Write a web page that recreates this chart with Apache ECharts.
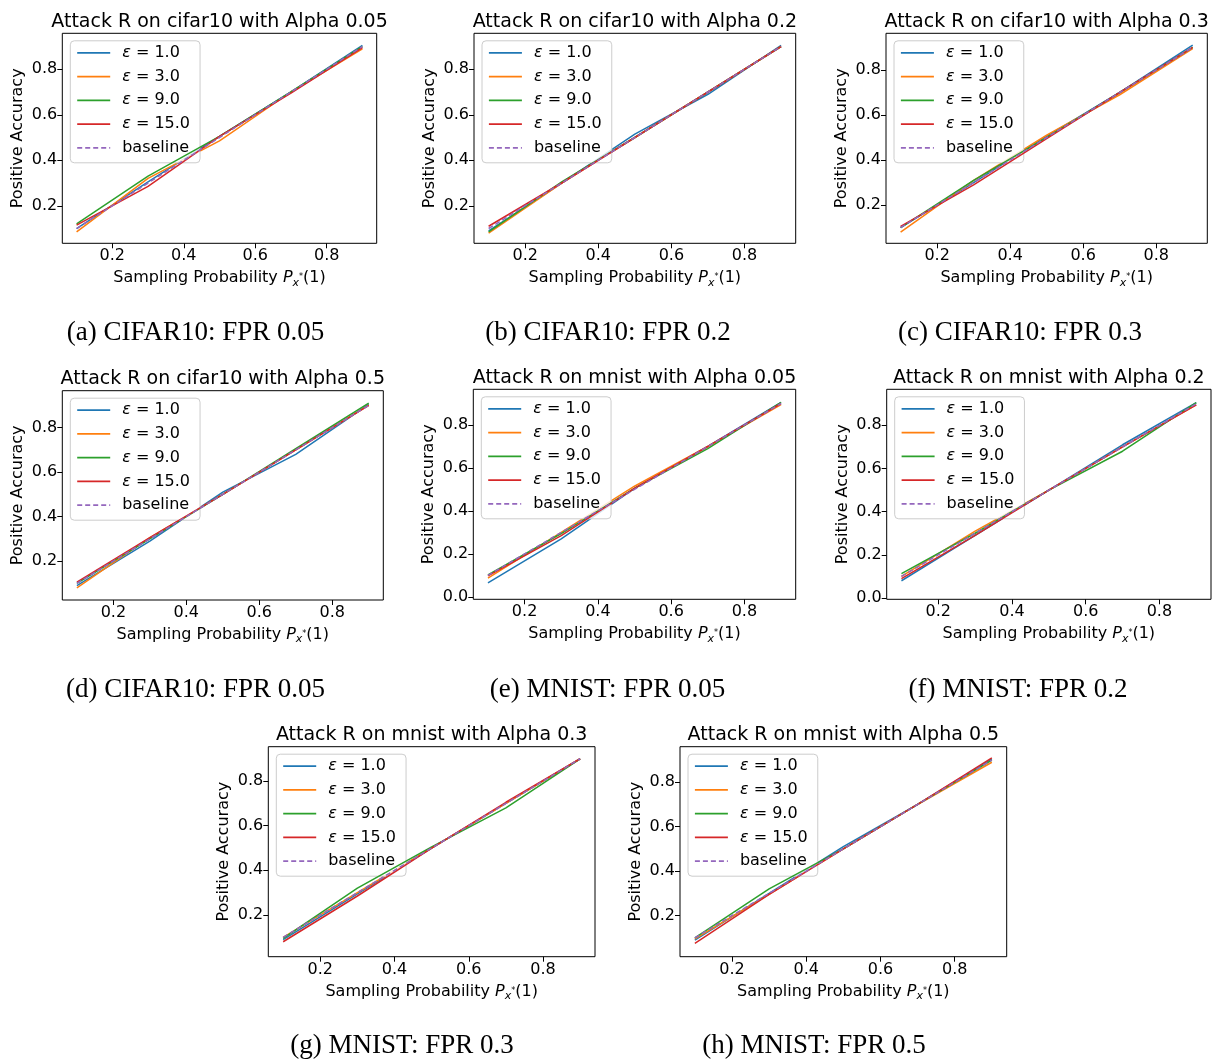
<!DOCTYPE html>
<html><head><meta charset="utf-8">
<script src="https://cdn.jsdelivr.net/npm/echarts@6/dist/echarts.min.js"></script>
<style>html,body{margin:0;padding:0;background:#fff}#c{width:1212px;height:1059px}</style>
</head><body><div id="c"></div>
<script>
// ---- data ----
const xValues = [0.1, 0.3, 0.5, 0.7, 0.9];
const xTicks = [0.2, 0.4, 0.6, 0.8];
const yTicks = [0.2, 0.4, 0.6, 0.8];
const yTicksWithZero = [0.0, 0.2, 0.4, 0.6, 0.8];
const epsLabels = ['1.0', '3.0', '9.0', '15.0'];
const baseline = [0.1, 0.3, 0.5, 0.7, 0.9];
const panelTitles = [
  'Attack R on cifar10 with Alpha 0.05', 'Attack R on cifar10 with Alpha 0.2',
  'Attack R on cifar10 with Alpha 0.3', 'Attack R on cifar10 with Alpha 0.5',
  'Attack R on mnist with Alpha 0.05', 'Attack R on mnist with Alpha 0.2',
  'Attack R on mnist with Alpha 0.3', 'Attack R on mnist with Alpha 0.5'];
const panelCaptions = [
  '(a) CIFAR10: FPR 0.05', '(b) CIFAR10: FPR 0.2', '(c) CIFAR10: FPR 0.3',
  '(d) CIFAR10: FPR 0.05', '(e) MNIST: FPR 0.05', '(f) MNIST: FPR 0.2',
  '(g) MNIST: FPR 0.3', '(h) MNIST: FPR 0.5'];
// rows: eps 1.0, 3.0, 9.0, 15.0 at xValues
const panelA = [[0.10, 0.305, 0.505, 0.70, 0.905], [0.085, 0.32, 0.485, 0.70, 0.89], [0.12, 0.33, 0.505, 0.70, 0.90], [0.115, 0.285, 0.505, 0.695, 0.895]];
const panelB = [[0.09, 0.30, 0.515, 0.69, 0.905], [0.08, 0.30, 0.50, 0.70, 0.90], [0.085, 0.305, 0.50, 0.70, 0.90], [0.11, 0.30, 0.50, 0.70, 0.90]];
const panelC = [[0.10, 0.30, 0.505, 0.70, 0.91], [0.08, 0.31, 0.51, 0.69, 0.895], [0.10, 0.31, 0.50, 0.70, 0.90], [0.105, 0.29, 0.495, 0.70, 0.90]];
const panelD = [[0.09, 0.29, 0.51, 0.68, 0.905], [0.08, 0.305, 0.50, 0.70, 0.90], [0.10, 0.30, 0.50, 0.705, 0.91], [0.105, 0.305, 0.50, 0.70, 0.90]];
const panelE = [[0.065, 0.27, 0.505, 0.70, 0.905], [0.087, 0.30, 0.515, 0.70, 0.895], [0.102, 0.295, 0.505, 0.69, 0.905], [0.098, 0.285, 0.505, 0.70, 0.90]];
const panelF = [[0.08, 0.29, 0.50, 0.71, 0.905], [0.10, 0.31, 0.50, 0.70, 0.895], [0.113, 0.30, 0.50, 0.68, 0.905], [0.09, 0.29, 0.50, 0.70, 0.895]];
const panelG = [[0.09, 0.295, 0.50, 0.70, 0.90], [0.10, 0.30, 0.50, 0.70, 0.90], [0.095, 0.32, 0.505, 0.68, 0.90], [0.08, 0.285, 0.50, 0.705, 0.90]];
const panelH = [[0.09, 0.30, 0.51, 0.70, 0.905], [0.095, 0.295, 0.50, 0.70, 0.89], [0.10, 0.32, 0.50, 0.70, 0.90], [0.075, 0.295, 0.50, 0.70, 0.91]];
const panels = [panelA, panelB, panelC, panelD, panelE, panelF, panelG, panelH];

// ---- layout / style ----
const frames = [ // left, top, right, bottom (px)
  [62.3, 33.3, 376.7, 243.3], [474, 33.3, 795.7, 243.3], [886, 33.3, 1207.3, 243.3],
  [62.3, 390.7, 383.3, 600], [473.3, 389.3, 795.7, 599.3], [886.7, 389.3, 1211, 599.3],
  [268.3, 746.7, 595, 956.7], [680, 746.7, 1006.7, 956.7]];
const yRanges = [[0.035, 0.958], [0.035, 0.958], [0.03, 0.963], [0.025, 0.966],
  [-0.011, 0.966], [-0.006, 0.967], [0.013, 0.954], [0.015, 0.96]];
const useZeroTick = [false, false, false, false, true, true, false, false];
const captionPos = [[195.5, 333], [608, 333], [1020, 333], [195.5, 690], [607.5, 690], [1018, 690], [402, 1046], [814, 1046]];
const colors = ['#1f77b4', '#ff7f0e', '#2ca02c', '#d62728'];
const baseColor = '#9467bd';
const FONT = 'DejaVu Sans';

const grids = [], xAxes = [], yAxes = [], series = [], legends = [], graphics = [];
const seriesNames = epsLabels.map(e => 'ε = ' + e).concat(['baseline']);

frames.forEach((f, i) => {
  const [l, t, r, b] = f;
  grids.push({left: l, top: t, width: r - l, height: b - t, show: true,
    borderColor: '#000', borderWidth: 1, backgroundColor: 'transparent', containLabel: false});
  xAxes.push({type: 'value', gridIndex: i, min: 0.06, max: 0.94,
    axisLine: {show: false, onZero: false},
    axisTick: {show: true, inside: false, length: 5, lineStyle: {color: '#000', width: 1}, customValues: xTicks},
    axisLabel: {show: true, margin: 5, color: '#000', fontFamily: FONT, fontSize: 16, customValues: xTicks,
      formatter: v => v.toFixed(1)},
    splitLine: {show: false},
    name: 'Sampling Probability {p|P}{s|x}{t|*}(1)', nameLocation: 'middle', nameGap: 25,
    nameTextStyle: {color: '#000', fontFamily: FONT, fontSize: 16, lineHeight: 20,
      rich: {
        p: {fontFamily: FONT, fontStyle: 'italic', fontSize: 16, color: '#000', lineHeight: 20},
        s: {fontFamily: FONT, fontStyle: 'italic', fontSize: 11, color: '#000', lineHeight: 11, verticalAlign: 'bottom'},
        t: {fontFamily: FONT, fontSize: 8, color: '#000', lineHeight: 8, verticalAlign: 'middle', padding: [0, 0, 2, 0]}
      }}
  });
  const yt = useZeroTick[i] ? yTicksWithZero : yTicks;
  yAxes.push({type: 'value', gridIndex: i, min: yRanges[i][0], max: yRanges[i][1],
    axisLine: {show: false, onZero: false},
    axisTick: {show: true, inside: false, length: 5, lineStyle: {color: '#000', width: 1}, customValues: yt},
    axisLabel: {show: true, margin: 5, color: '#000', fontFamily: FONT, fontSize: 16, customValues: yt,
      formatter: v => v.toFixed(1)},
    splitLine: {show: false},
    name: 'Positive Accuracy', nameLocation: 'middle', nameGap: 36, nameRotate: 90,
    nameTextStyle: {color: '#000', fontFamily: FONT, fontSize: 16}
  });
  panels[i].forEach((vals, k) => {
    series.push({type: 'line', name: seriesNames[k], xAxisIndex: i, yAxisIndex: i,
      data: xValues.map((x, j) => [x, vals[j]]), symbol: 'none', showSymbol: false,
      lineStyle: {color: colors[k], width: 1.5}, itemStyle: {color: colors[k]},
      emphasis: {disabled: true}, z: 2 + k});
  });
  series.push({type: 'line', name: 'baseline', xAxisIndex: i, yAxisIndex: i,
    data: xValues.map((x, j) => [x, baseline[j]]), symbol: 'none', showSymbol: false,
    lineStyle: {color: baseColor, width: 1.5, type: [5, 3]}, itemStyle: {color: baseColor},
    emphasis: {disabled: true}, z: 7});
  legends.push({show: true, orient: 'vertical', left: l + 8, top: t + 7.5,
    data: seriesNames, itemWidth: 33, itemHeight: 16, itemGap: 7.75,
    padding: [4, 10, 7, 6], backgroundColor: 'rgba(255,255,255,0.8)',
    borderColor: '#cccccc', borderWidth: 1, borderRadius: 4, selectedMode: false,
    itemStyle: {opacity: 0, borderWidth: 0},
    lineStyle: {width: 1.8},
    formatter: name => name.startsWith('ε') ? '{e|ε}' + name.slice(1) : name,
    textStyle: {color: '#000', fontFamily: FONT, fontSize: 16, lineHeight: 16, padding: [0, 0, 0, 7],
      rich: {e: {fontFamily: FONT, fontStyle: 'italic', fontSize: 16, color: '#000', lineHeight: 16}}}
  });
  graphics.push({type: 'text', x: (l + r) / 2, y: t - 11.5, silent: true,
    style: {text: panelTitles[i], font: '19px "DejaVu Sans"', fill: '#000',
      textAlign: 'center', textVerticalAlign: 'middle', align: 'center', verticalAlign: 'middle'}});
  graphics.push({type: 'text', x: captionPos[i][0], y: captionPos[i][1], silent: true,
    style: {text: panelCaptions[i], font: '27px "Liberation Serif"', fill: '#000',
      textAlign: 'center', textVerticalAlign: 'middle', align: 'center', verticalAlign: 'middle'}});
});

const chart = echarts.init(document.getElementById('c'), null, {renderer: 'canvas'});
chart.setOption({
  backgroundColor: '#fff', animation: false,
  grid: grids, xAxis: xAxes, yAxis: yAxes, series: series, legend: legends,
  graphic: graphics, tooltip: {show: false}
});
</script></body></html>
